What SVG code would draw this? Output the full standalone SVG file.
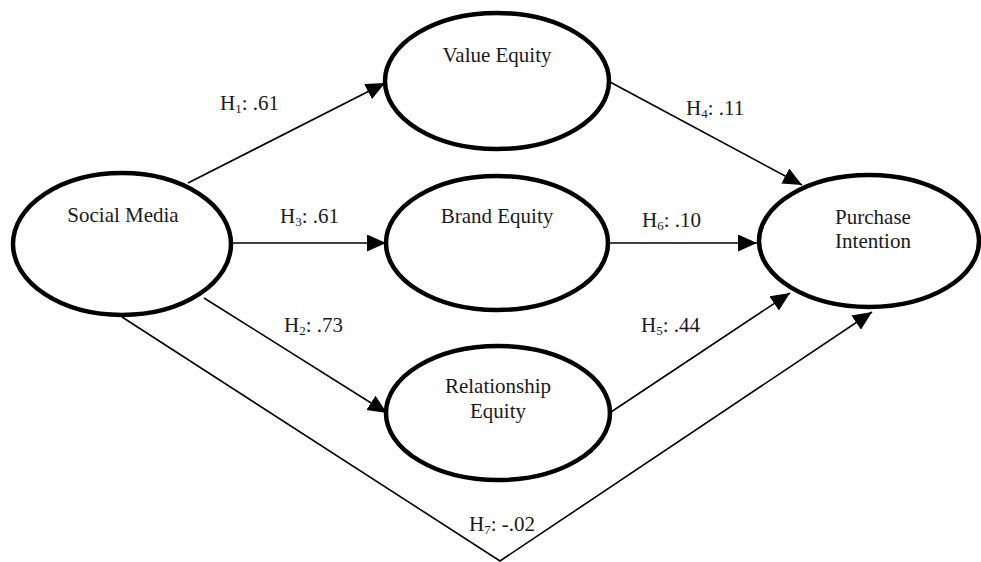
<svg xmlns="http://www.w3.org/2000/svg" width="981" height="562" viewBox="0 0 981 562">
<style>
.node ellipse{fill:#fff;stroke:#000;stroke-width:4.5}
.node text,.lbl{font-family:"Liberation Serif","Times New Roman",serif;font-size:21px;fill:#1a1a1a}
.node text{text-anchor:middle}
.edge{fill:none;stroke:#000;stroke-width:1.6}
.sub{font-size:13px}
</style>
<defs>
<marker id="arr" markerUnits="userSpaceOnUse" markerWidth="22" markerHeight="18" refX="19" refY="8.5" orient="auto">
<path d="M0,0 L19,8.5 L0,17 Z" fill="#000"/>
</marker>
</defs>
<rect width="981" height="562" fill="#fff"/>
<g id="connectors">
<line class="edge" x1="188" y1="183" x2="385" y2="83" marker-end="url(#arr)"/>
<line class="edge" x1="233" y1="243" x2="386" y2="243" marker-end="url(#arr)"/>
<line class="edge" x1="204" y1="298" x2="387" y2="413" marker-end="url(#arr)"/>
<line class="edge" x1="610" y1="82" x2="802" y2="185" marker-end="url(#arr)"/>
<line class="edge" x1="608" y1="243" x2="757" y2="243" marker-end="url(#arr)"/>
<line class="edge" x1="611" y1="412" x2="790" y2="293" marker-end="url(#arr)"/>
<polyline class="edge" points="122,317 500,561 872,312" marker-end="url(#arr)"/>
<text class="lbl" x="220" y="110">H<tspan class="sub" dy="3">1</tspan><tspan dy="-3">: .61</tspan></text>
<text class="lbl" x="280" y="223">H<tspan class="sub" dy="3">3</tspan><tspan dy="-3">: .61</tspan></text>
<text class="lbl" x="284" y="332">H<tspan class="sub" dy="3">2</tspan><tspan dy="-3">: .73</tspan></text>
<text class="lbl" x="686" y="115">H<tspan class="sub" dy="3">4</tspan><tspan dy="-3">: .11</tspan></text>
<text class="lbl" x="642" y="227">H<tspan class="sub" dy="3">6</tspan><tspan dy="-3">: .10</tspan></text>
<text class="lbl" x="641" y="332">H<tspan class="sub" dy="3">5</tspan><tspan dy="-3">: .44</tspan></text>
<text class="lbl" x="469" y="531">H<tspan class="sub" dy="3">7</tspan><tspan dy="-3">: -.02</tspan></text>
</g>
<g id="social-media" class="node">
<ellipse cx="122" cy="244" rx="109" ry="71"/>
<text x="123" y="222">Social Media</text>
</g>
<g id="value-equity" class="node">
<ellipse cx="497" cy="81" rx="112" ry="68"/>
<text x="497" y="62">Value Equity</text>
</g>
<g id="brand-equity" class="node">
<ellipse cx="497" cy="243" rx="111" ry="67"/>
<text x="497" y="223">Brand Equity</text>
</g>
<g id="relationship-equity" class="node">
<ellipse cx="498" cy="413" rx="112" ry="67"/>
<text x="498" y="393">Relationship</text>
<text x="498" y="418">Equity</text>
</g>
<g id="purchase-intention" class="node">
<ellipse cx="869" cy="241" rx="110" ry="66"/>
<text x="873" y="224">Purchase</text>
<text x="873" y="248">Intention</text>
</g>
</svg>
